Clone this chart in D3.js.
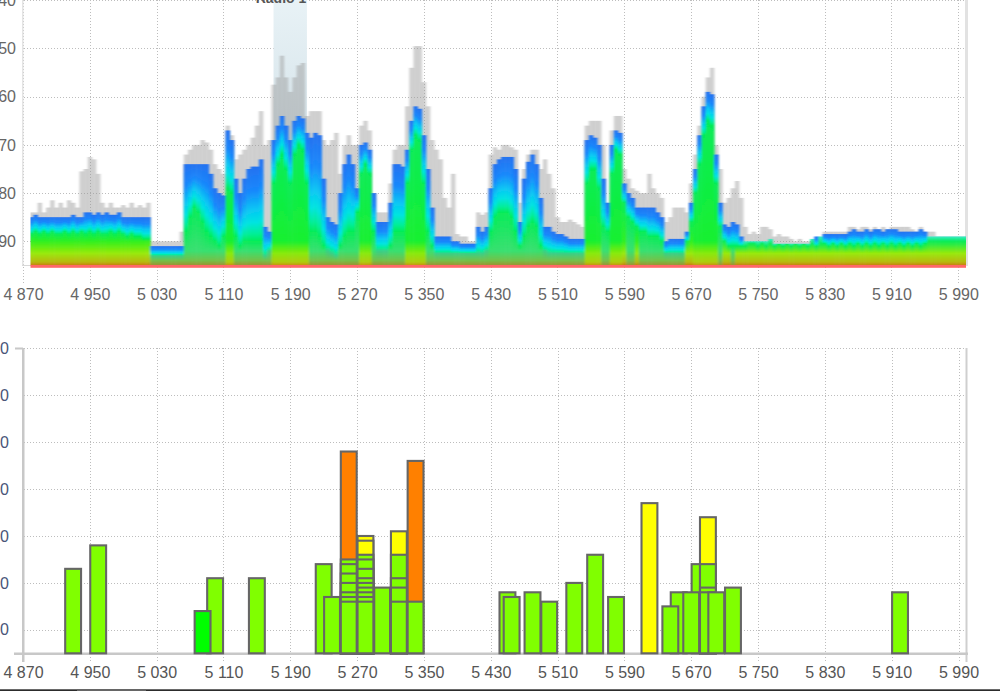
<!DOCTYPE html>
<html><head><meta charset="utf-8">
<script src="https://cdn.jsdelivr.net/npm/d3@7"></script>
<style>
html,body{margin:0;padding:0;background:#fff;overflow:hidden}
svg{display:block;font-family:"Liberation Sans",Arial,sans-serif}
</style></head><body>
<svg id="c" width="1000" height="691"></svg>
<script>
// Shared frequency ticks
const freqTicks = d3.range(4870, 5991, 80);
const topLevelTicks = [-40,-50,-60,-70,-80,-90];
const bottomLevelTicks = [10,20,30,40,50,60,70];
const bandRange = [5170, 5210];
const bandLabel = "Radio 1";

// Spectrum columns every 5 MHz from 4880 to 6000: magnitudes in dB below 0
const maxHold = [
84,84,82,84,83,81.5,83,82,83,81.5,82,83,75.5,75,72.5,73,76,82,83,82,
83,83,82.5,83,82,83,82.5,83,82,90,90,90,90,90,90,90,88,72,71,70,
70,69,69.5,71,74,75,76,66,68,73,72,71,70,68.5,66,63,70,69,57.5,56,
51.5,56,59,56,53.5,53,64,63,63,63,69,70,69,67.5,76,70,68,70,70,66,
65,67,80,84,84,84,78,71,70,70,62,54,49.5,49.5,57,62,69,71,73,81,
83,76,88.5,89,89,90,90,84,84.5,84,72,70.5,71,70,70,70.5,71,82,75,72,
71,71,75,73,76,79,85,86,86,85.5,86,86.5,87,66,65,65,65,70,82,67,
64,64,75,77,79,79.5,80,80,76,79,80,81,86,85,83,83,83,84,78,72,
66,60,56,54,70,75,82,81,79,77.5,81,87,88.5,88,88.5,87,87,87.5,89,88.5,
89,89,89.5,90,89.5,90,90,90,89.5,89.5,88,88,88,88,88,88,87,87,87.5,87,
87,87.5,87,87.5,87,87.5,87,87,87,87,87,87.5,88,87,88,88,88,89,89,89,
89,89,89,89,89];
const densityTop = [
85,84.5,85,85,85,85,85,85,85,85,84.5,85,85,84,84,84.5,84,84.5,84,84.5,
84.5,84,85,85,85,85,85,85,85,91,91,91,91,91,91,91,91,74,74,74,
74,74,74,76,79,80,80.5,67,69,77,80,77,75,74.5,74.5,73,87,88,69,66,
64,66,69,65,64,64.5,67.5,68.5,67.5,68,77,85,86,86.5,80,74,72,74,79,70,
69.5,71,80,86,86,86,82,74,74,74.5,71,65,62,62.5,68,75,83,89,89,89,
89,90,90,90.5,90.5,90.5,90.5,87,88,87,79,74,73,72.5,72.5,72.5,75,86,77,73.5,
72,74,81,87,87,88,88.5,88.5,89,89.5,89.5,89.5,89.5,69,68,68.5,70,77,82,70,
67,67.5,78,80,81,83,83,83,83,83,84,85,90,89.5,89.5,89.5,89.5,88,82,75,
68,62,59,59.5,72,82,86.5,87,86,86.5,89,90,90,90,90,90,90,89.5,90.5,90.5,
90.5,90.5,90.5,90.5,90.5,90.5,90.5,89.5,89,89,88.5,88.5,88.5,88.5,88.5,88.5,88,87.5,88,88,
87.5,88,87.5,87.5,88,87.5,87.5,87.5,88,88,88,88,88,87.5,88,89,89,89,89,89,
89,89,89,89,89];
const greenTop = [
88.5,88,88.5,88,88.5,88,88.5,88.5,88,88.5,88,88.5,88,88.5,88,88.5,88,88.5,88.5,88,
88.5,88,88.5,89,88.5,89,89,89.5,89.5,93,93,93,93,93,93,93,93,88,85,83,
84,86,88,89,90,91,89,79,80,89,91,90,90,90,90,90,93,92,78,74,
72,75,78,72,70,71,78,88,88,89,91,92,92.5,93,91,89,88,88,84,76,
74,76,88,92,92,92,91,88,88,88,78,71,68,69,78,88,91,92.5,92.5,92.5,
92.5,92.5,92.5,92.5,92.5,92.5,92.5,92.5,92.5,92,88,85,84,84,84,85,88,91,89,87,
86,87,91,92,92.5,92.5,92.5,92.5,92.5,92.5,92.5,92.5,92.5,78,75,75,79,87,88,76,
71,72,82,85,86,87,88,88,89,89,89,90,92.5,92.5,92.5,92.5,92.5,90,86,80,
74,68,65,66,78,87,90,91,91,91,91,91,90.5,90.5,91,90.5,91,90.5,91,90.5,
91,90.5,91,90.5,91,90.5,91,90.5,91,90.5,90.5,91,90.5,91,90.5,91,90.5,91,90.5,91,
90.5,91,90.5,91,90.5,91,90.5,91,90.5,91,90.5,91,90.5,91,90.5,90,90,90,90,90,
90,90,90,90,90];

// Bars, in drawing order; stacked bars list their tallest piece first
const barFreq = [4930,4960,5100,5085,5150,5230,5240,
 5260,5260,5260,5260,5260,5260,5260,5260,
 5280,5280,5280,5280,5280,5280,5280,5280,5280,5280,5280,
 5300,
 5320,5320,5320,5320,5320,
 5340,5340,
 5450,5455,5480,5500,5530,5555,5580,5620,5655,5645,5680,5670,
 5690,5690,5690,5690,5700,5720,5920];
const barValue = [23,28,21,14,21,24,17,
 48,25,24,22,20,18,17,16,
 30,29,26,25,23,21,20,19,18,17,16,
 19,
 31,26,21,19,16,
 46,16,
 18,17,18,16,20,26,17,37,18,15,24,18,
 34,24,19,18,18,19,18];
const barColor = ["l","l","l","g","l","l","l",
 "o","l","l","l","l","l","l","l",
 "y","y","l","l","l","l","l","l","l","l","l",
 "l",
 "y","l","l","l","l",
 "o","l",
 "l","l","l","l","l","l","l","y","l","l","l","l",
 "y","l","l","l","l","l","l"];
const barPalette = {l:"#80ff00",g:"#00ff00",y:"#ffff00",o:"#ff8000"};

const spaced = d3.formatLocale({decimal:".",thousands:" ",grouping:[3],currency:["",""]}).format(",");
const columns = d3.range(4880, 6001, 5);
const svg = d3.select("#c"), defs = svg.append("defs");

const xTop = d3.scaleLinear([4870,5990],[23,958.3]);
const yTop = d3.scaleLinear([-95,-40],[265.4,0.3]);
const xBot = d3.scaleLinear([4870,5990],[23,958.5]);
const yBot = d3.scaleLinear([5,70],[653.3,348.3]);

function blur(id, dev){
  defs.append("filter").attr("id",id).attr("filterUnits","userSpaceOnUse")
    .attr("x",0).attr("y",-10).attr("width",1000).attr("height",300)
    .append("feGaussianBlur").attr("stdDeviation",dev);
}
blur("soft","1.3 0.5");
blur("softer","0.9 0.3");
defs.append("clipPath").attr("id","plotClip").append("rect").attr("x",30.5).attr("y",0).attr("width",935.5).attr("height",266);
const bandGrad = defs.append("linearGradient").attr("id","band").attr("x1",0).attr("x2",0).attr("y1",0).attr("y2",1);
bandGrad.append("stop").attr("offset",0).attr("stop-color","#e8f2f6");
bandGrad.append("stop").attr("offset",1).attr("stop-color","#c4d6de");

function grid(g, x, y, xTicks, yTicks, x0, x1, y0, y1){
  g.selectAll("line.h").data(yTicks).join("line").attr("class","h")
    .attr("x1",x0).attr("x2",x1).attr("y1",d=>Math.round(y(d))+.5).attr("y2",d=>Math.round(y(d))+.5);
  g.selectAll("line.v").data(xTicks).join("line").attr("class","v")
    .attr("x1",d=>Math.round(x(d))+.5).attr("x2",d=>Math.round(x(d))+.5).attr("y1",y0).attr("y2",y1);
  g.selectAll("line").attr("stroke","#bdbdbd").attr("stroke-width",1).attr("stroke-dasharray","1,2");
}
function xLabels(x, yPos, color){
  const g = svg.append("g").attr("transform",`translate(0,${yPos})`)
    .call(d3.axisBottom(x).tickValues(freqTicks).tickFormat(spaced).tickSize(0).tickPadding(0));
  g.select(".domain").remove();
  g.selectAll("text").attr("font-family","Liberation Sans").attr("font-size",16).attr("fill",color);
}
function yLabels(y, ticks, xPos, color, fmt){
  const g = svg.append("g").attr("transform",`translate(${xPos},0)`)
    .call(d3.axisLeft(y).tickValues(ticks).tickFormat(fmt).tickSize(0).tickPadding(0));
  g.select(".domain").remove();
  g.selectAll("text").attr("font-family","Liberation Sans").attr("font-size",16).attr("fill",color);
}

/* ---------- top chart ---------- */
grid(svg.append("g"), xTop, yTop, freqTicks, topLevelTicks, 24, 965, 0, 283);
svg.append("rect").attr("x",22).attr("y",0).attr("width",1.5).attr("height",265).attr("fill","#e4e4e4");
svg.append("rect").attr("x",22).attr("y",265).attr("width",9).attr("height",1).attr("fill","#d8d8d8");
svg.append("rect").attr("x",965).attr("y",0).attr("width",3).attr("height",266).attr("fill","#e2e2e2");
svg.append("rect").attr("x",xTop(bandRange[0])).attr("width",xTop(bandRange[1])-xTop(bandRange[0]))
  .attr("y",0).attr("height",yTop(-95)).attr("fill","url(#band)");
svg.append("text").attr("x",281).attr("y",3).attr("text-anchor","middle").attr("font-size",14)
  .attr("font-weight","bold").attr("fill","#555").text(bandLabel);

const plot = svg.append("g").attr("clip-path","url(#plotClip)");
plot.append("g").attr("filter","url(#softer)").selectAll("rect").data(maxHold).join("rect")
  .attr("x",(d,i)=>xTop(columns[i]-2.5)).attr("width",xTop(5)-xTop(0)+.3)
  .attr("y",d=>yTop(-d)).attr("height",d=>yTop(-95)-yTop(-d))
  .attr("fill","#999").attr("fill-opacity",.45);

function stops(b,h){
  const span = h-b;
  const out = [];
  if(span>=2){
    out.push([b,"#2472f0"],[b+span*.32,"#1888fc"],[b+span*.58,"#08c8f4"],[b+span*.75,"#02e4e0"],[b+span*.9,"#06ee98"]);
  } else {
    out.push([b,"#38ecc8"]);
  }
  out.push([h, h>=92 ? "#38d088" : "#06ec58"]);
  const peak = h<82, flat = span<5 && h<92;
  if(peak){
    out.push([90,"#18f030"],[92.5,"#88ea08"],[94.3,"#b0cc08"],[95,"#c89010"]);
  } else if(flat){
    if(h<90) out.push([90,"#30f020"]);
    out.push([92.5,"#98ea08"],[94.3,"#b8b810"],[95,"#c87c10"]);
  } else {
    if(h<92) out.push([92,"#38e070"]);
    out.push([94,"#74c048"],[95,"#a09030"]);
  }
  return out;
}
const heat = plot.append("g").attr("filter","url(#soft)");
columns.forEach((f,i)=>{
  const b = densityTop[i], h = Math.max(greenTop[i], b+.1), id = "col"+i;
  const grad = defs.append("linearGradient").attr("id",id).attr("gradientUnits","userSpaceOnUse")
    .attr("x1",0).attr("x2",0).attr("y1",yTop(-b)).attr("y2",yTop(-95));
  stops(b,h).forEach(([v,c])=>grad.append("stop").attr("offset",(v-b)/(95-b)).attr("stop-color",c));
  heat.append("rect").attr("x",xTop(f-2.5)).attr("width",xTop(f+2.5)-xTop(f-2.5)+.4)
    .attr("y",yTop(-b)).attr("height",yTop(-95)-yTop(-b)).attr("fill",`url(#${id})`);
});
svg.append("rect").attr("x",30.5).attr("y",265).attr("width",935.5).attr("height",2.8).attr("fill","#ff6868");

xLabels(xTop, 288.6, "#666");
yLabels(yTop, topLevelTicks, 16, "#666", d=>String(d));

/* ---------- bottom chart ---------- */
grid(svg.append("g"), xBot, yBot, freqTicks, bottomLevelTicks, 24, 966, 348, 661);
svg.append("rect").attr("x",22).attr("y",348).attr("width",2.5).attr("height",314).attr("fill","#c8c8c8");
svg.append("rect").attr("x",15).attr("y",347.5).attr("width",8).attr("height",2).attr("fill","#c8c8c8");
svg.append("rect").attr("x",965.5).attr("y",348).attr("width",2).attr("height",314).attr("fill","#cfcfcf");
svg.append("rect").attr("x",14).attr("y",652.5).attr("width",954).attr("height",2.5).attr("fill","#c8c8c8");

svg.append("g").selectAll("rect").data(barFreq).join("rect")
  .attr("x",d=>xBot(d-9.5)).attr("width",xBot(19)-xBot(0))
  .attr("y",(d,i)=>yBot(barValue[i])).attr("height",(d,i)=>yBot(5)-yBot(barValue[i]))
  .attr("fill",(d,i)=>barPalette[barColor[i]])
  .attr("stroke","#666").attr("stroke-width",2.1);

xLabels(xBot, 666.3, "#555");
yLabels(yBot, bottomLevelTicks, 9, "#4a5578", d=>String(d));

/* window edge at the foot of the screenshot */
svg.append("rect").attr("x",0).attr("y",689.3).attr("width",1000).attr("height",1.7).attr("fill","#2c2c2c");
svg.append("rect").attr("x",77).attr("y",689.3).attr("width",69).attr("height",1.7).attr("fill","#666");
</script>
</body></html>
